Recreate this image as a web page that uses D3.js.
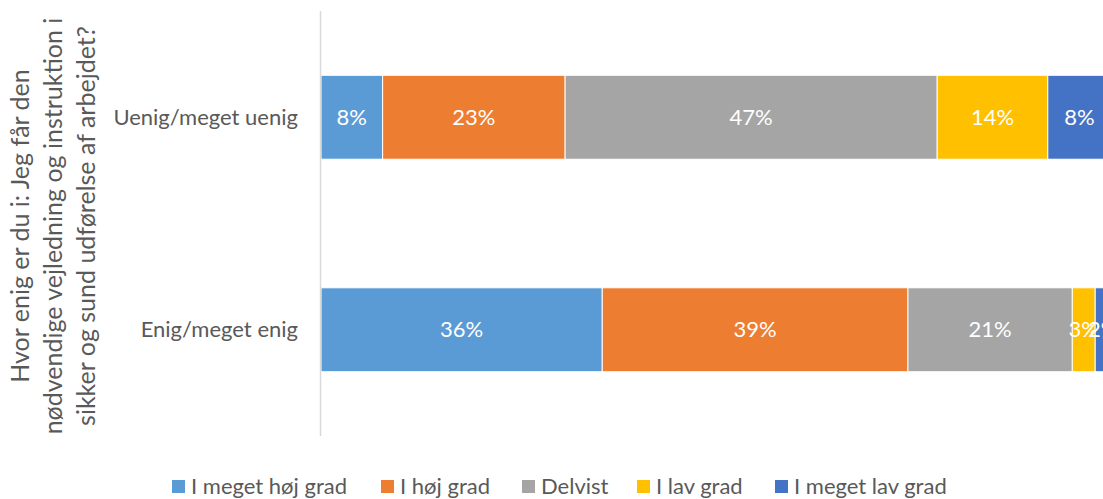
<!DOCTYPE html>
<html>
<head>
<meta charset="utf-8">
<script src="https://cdn.jsdelivr.net/npm/d3@7.9.0/dist/d3.min.js"></script>
<style>
  body { margin: 0; background: #fff; }
  svg { display: block; font-family: Lato, "Open Sans", sans-serif; }
</style>
</head>
<body>
<svg id="chart" width="1103" height="499"></svg>
<script>
// categories, top to bottom
const categories = ["Uenig/meget uenig", "Enig/meget enig"];
const seriesNames = ["I meget høj grad", "I høj grad", "Delvist", "I lav grad", "I meget lav grad"];
const seriesColors = ["#5B9BD5", "#ED7D31", "#A5A5A5", "#FFC000", "#4472C4"];
// percent values per series (same order as categories)
const meegetHoej = [7.8, 35.6];
const hoej = [23.1, 38.7];
const delvist = [47.1, 20.8];
const lav = [14.0, 2.9];
const meegetLav = [8.0, 2.0];
const titleLines = [
  "Hvor enig er du i: Jeg får den",
  "nødvendige vejledning og instruktion i",
  "sikker og sund udførelse af arbejdet?"
];

const seriesValues = [meegetHoej, hoej, delvist, lav, meegetLav];
const rows = categories.map((c, i) => {
  const row = { cat: c };
  seriesNames.forEach((s, j) => (row[s] = seriesValues[j][i]));
  return row;
});

const svg = d3.select("#chart");
const textGray = "#595959";
const labelSize = 22;

const x = d3.scaleLinear().domain([0, 100]).range([321, 1111]);
const y = d3.scaleBand()
  .domain(categories)
  .range([11, 436])
  .paddingInner(0.605)
  .paddingOuter(0.3025);

const stacked = d3.stack().keys(seriesNames)(rows);

const layers = svg.append("g")
  .selectAll("g")
  .data(stacked)
  .join("g")
  .attr("fill", (d, i) => seriesColors[i]);

layers.selectAll("rect")
  .data((d) => d)
  .join("rect")
  .attr("x", (d) => x(d[0]))
  .attr("width", (d) => x(d[1]) - x(d[0]))
  .attr("y", (d) => y(d.data.cat))
  .attr("height", y.bandwidth())
  .attr("stroke", "#fff")
  .attr("stroke-width", 1);

layers.selectAll("text")
  .data((d) => d.map((v) => ({ v, key: d.key })))
  .join("text")
  .attr("x", (d) => (x(d.v[0]) + x(d.v[1])) / 2)
  .attr("y", (d) => y(d.v.data.cat) + y.bandwidth() / 2)
  .attr("dy", "0.35em")
  .attr("text-anchor", "middle")
  .attr("fill", "#fff")
  .attr("font-size", labelSize)
  .text((d) => Math.round(d.v.data[d.key]) + "%");

// axis line
svg.append("line")
  .attr("x1", 320.5).attr("x2", 320.5)
  .attr("y1", 11).attr("y2", 436)
  .attr("stroke", "#D9D9D9")
  .attr("stroke-width", 1.5);

// category labels
svg.append("g")
  .selectAll("text")
  .data(categories)
  .join("text")
  .attr("x", 298)
  .attr("y", (d) => y(d) + y.bandwidth() / 2)
  .attr("dy", "0.35em")
  .attr("text-anchor", "end")
  .attr("fill", textGray)
  .attr("font-size", labelSize)
  .text((d) => d);

// rotated axis title
svg.append("g")
  .attr("transform", "translate(0,226) rotate(-90)")
  .selectAll("text")
  .data(titleLines)
  .join("text")
  .attr("x", 0)
  .attr("y", (d, i) => 29 + i * 33)
  .attr("text-anchor", "middle")
  .attr("fill", textGray)
  .attr("font-size", 25)
  .text((d) => d);

// legend
const legendX = [172, 381, 522, 637, 775];
const legend = svg.append("g")
  .selectAll("g")
  .data(seriesNames)
  .join("g")
  .attr("transform", (d, i) => `translate(${legendX[i]},480)`);

legend.append("rect")
  .attr("width", 13).attr("height", 13)
  .attr("fill", (d, i) => seriesColors[i]);

legend.append("text")
  .attr("x", 19)
  .attr("y", 14)
  .attr("fill", textGray)
  .attr("font-size", labelSize)
  .text((d) => d);
</script>
</body>
</html>
